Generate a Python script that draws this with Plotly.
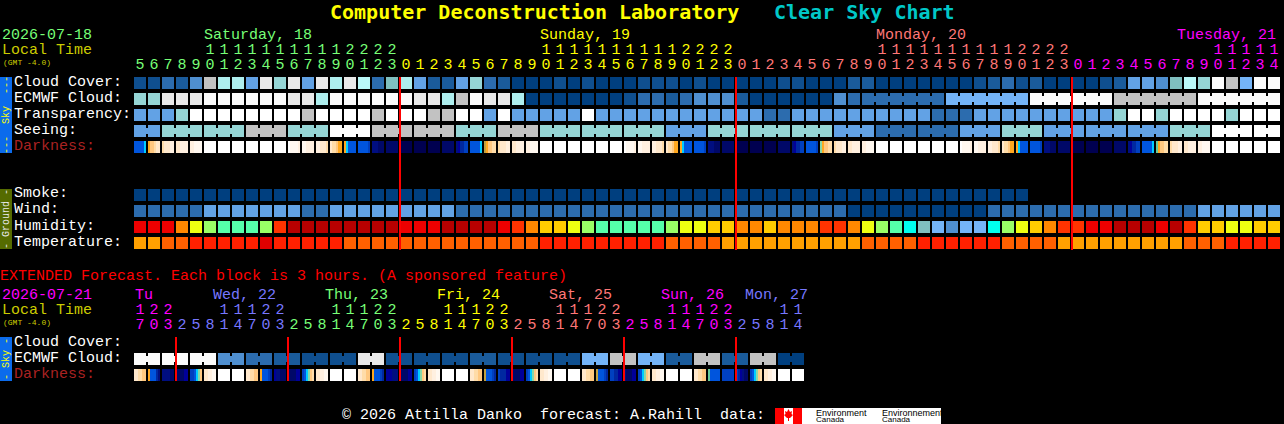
#!/usr/bin/env python3
"""
Clear Sky Chart for the Computer Deconstruction Laboratory
"""

import plotly.graph_objects as go

# Hour labels, one per block
hours = [5, 6, 7, 8, 9, 10, 11, 12, 13, 14, 15, 16, 17, 18, 19, 20, 21, 22, 23,
         0, 1, 2, 3, 4, 5, 6, 7, 8, 9, 10, 11, 12, 13, 14, 15, 16, 17, 18, 19, 20, 21, 22, 23,
         0, 1, 2, 3, 4, 5, 6, 7, 8, 9, 10, 11, 12, 13, 14, 15, 16, 17, 18, 19, 20, 21, 22, 23,
         0, 1, 2, 3, 4, 5, 6, 7, 8, 9, 10, 11, 12, 13, 14]
ext_hours = [17, 20, 23,
             2, 5, 8, 11, 14, 17, 20, 23,
             2, 5, 8, 11, 14, 17, 20, 23,
             2, 5, 8, 11, 14, 17, 20, 23,
             2, 5, 8, 11, 14, 17, 20, 23,
             2, 5, 8, 11, 14, 17, 20, 23,
             2, 5, 8, 11, 14]

# Sky levels, index into SKY_COLORS
cloud = [1, 1, 3, 2, 4, 11, 9, 9, 5, 12, 8, 12, 5, 12, 9, 12, 10, 3, 7,
         9, 5, 2, 2, 5, 8, 3, 2, 0, 0, 0, 1, 0, 1, 0, 0, 0, 1, 1, 1, 0, 1, 0, 0,
         0, 0, 0, 1, 1, 0, 0, 0, 2, 2, 0, 0, 0, 0, 0, 0, 0, 1, 2, 3, 1, 2, 0, 0,
         0, 0, 1, 2, 5, 5, 4, 7, 10, 8, 13, 11, 6, 13, 13]
ecmwf = [8, 8, 12, 12, 12, 13, 13, 13, 13, 13, 13, 12, 12, 9, 13, 13, 13, 13, 13,
         13, 12, 12, 9, 11, 13, 12, 12, 9, 0, 0, 0, 0, 0, 0, 0, 1, 3, 3, 2, 3, 4, 4, 4,
         2, 0, 0, 0, 0, 0, 0, 4, 3, 3, 3, 3, 3, 3, 3, 6, 6, 6, 6, 6, 6, 13, 13, 13,
         13, 13, 13, 11, 11, 11, 11, 11, 11, 13, 13, 13, 13, 13, 13]
transparency = [5, 5, 5, 8, 14, 14, 14, 14, 14, 14, 14, 14, 11, 14, 14, 14, 14, 11, 14,
                14, 14, 11, 11, 14, 14, 5, 14, 5, 5, 5, 5, 5, 14, 5, 5, 5, 5, 5, 5, 5, 5, 5, 5,
                5, 5, 3, 3, 5, 5, 5, 5, 5, 5, 5, 5, 5, 5, 3, 3, 3, 5, 5, 5, 5, 5, 5, 5,
                5, 5, 5, 8, 14, 14, 8, 14, 14, 14, 14, 8, 14, 14, 14]
seeing = [5, 5, 8, 8, 8, 8, 8, 8, 11, 11, 11, 8, 8, 8, 14, 14, 14, 11, 11,
          11, 11, 11, 11, 8, 8, 8, 11, 11, 11, 8, 8, 8, 8, 8, 8, 8, 8, 8, 5, 5, 5, 8, 8,
          8, 8, 8, 8, 8, 8, 8, 5, 5, 5, 3, 3, 3, 3, 3, 3, 5, 5, 5, 8, 8, 8, 5, 5,
          5, 5, 5, 5, 5, 5, 5, 8, 8, 8, 14, 14, 14, 14, 14]
smoke = [0, 0, 0, 0, 0, 0, 0, 0, 0, 0, 0, 0, 0, 0, 0, 0, 0, 0, 0,
         0, 0, 0, 0, 0, 0, 0, 0, 0, 0, 0, 0, 0, 0, 0, 0, 0, 0, 0, 0, 0, 0, 0, 0,
         0, 0, 0, 0, 0, 0, 0, 0, 0, 0, 0, 0, 0, 0, 0, 0, 0, 0, 0, 0, 0]
wind = [3, 3, 3, 3, 3, 5, 5, 5, 5, 5, 5, 5, 3, 3, 5, 5, 5, 5, 5,
        5, 5, 5, 5, 3, 3, 3, 3, 3, 3, 3, 3, 3, 3, 3, 3, 3, 3, 3, 3, 3, 3, 3, 3,
        3, 3, 3, 3, 3, 3, 3, 3, 0, 0, 0, 0, 0, 0, 0, 0, 0, 0, 3, 3, 3, 3, 3, 3,
        3, 3, 3, 3, 3, 3, 3, 3, 3, 5, 5, 5, 5, 5, 5]
humidity = [1, 1, 1, 3, 5, 6, 7, 7, 7, 6, 2, 0, 0, 0, 0, 0, 0, 0, 0,
            1, 1, 1, 0, 0, 0, 0, 1, 2, 3, 4, 4, 5, 6, 7, 7, 7, 7, 7, 6, 5, 5, 4, 4,
            3, 3, 4, 3, 3, 3, 2, 2, 3, 5, 6, 7, 8, 9, 10, 11, 10, 10, 8, 6, 5, 4, 3, 2,
            2, 1, 1, 0, 0, 0, 1, 0, 2, 4, 4, 5, 5, 4, 4]
temperature = [0, 0, 1, 1, 2, 2, 2, 2, 2, 3, 2, 2, 2, 2, 2, 1, 1, 1, 1,
               1, 1, 1, 1, 1, 1, 1, 1, 1, 1, 2, 2, 2, 2, 2, 2, 2, 2, 2, 1, 1, 1, 1, 0,
               0, 0, 0, 0, 0, 0, 0, 0, 0, 1, 1, 1, 1, 2, 2, 2, 2, 2, 2, 1, 1, 1, 1, 0,
               0, 0, 0, 0, 0, 0, 0, 0, 1, 1, 1, 2, 2, 2, 2]
ext_ecmwf = [13, 13, 13, 4, 3, 2, 1, 1, 12, 1, 1, 1, 2, 1, 1, 1, 6, 11, 6, 2, 11, 2, 11, 0]

# Darkness: six readings across each block, letters index into DARK_COLORS
darkness = ["iiiiih", "gffedd", "edddcc", "ddcccc", "ccbbbb",
            "aaaaaa", "aaaaaa", "aaaaaa", "aaaaaa", "aaaaaa", "aaaaaa",
            "abbbbc", "bbcccc", "ccddde", "deefgg", "ghiiii", "iiiiij", "lllmmm", "mmmmmm",
            "nnnnnn", "nnnnnn", "nnnnnn", "mmmmmm", "lokkjj", "iiiiih", "qgffee", "edddcc", "ddcccc", "ccbbbb",
            "aaaaaa", "aaaaaa", "aaaaaa", "aaaaaa", "aaaaaa", "aaaaaa",
            "abbbbc", "bbcccc", "ccddde", "deefgg", "ghiiii", "iiiiij", "lllmmm", "mmmmmm",
            "nnnnnn", "nnnnnn", "nnnnnn", "mmmmmm", "lokkjj", "iiiiij", "pgffee", "edddcc", "ddcccc", "ccbbbb",
            "aaaaaa", "aaaaaa", "aaaaaa", "aaaaaa", "aaaaaa", "aaaaaa",
            "abbbbc", "bbcccc", "ccddde", "deefgg", "ghiiii", "iiiiij", "lllmmm", "mmmmmm",
            "nnnnnn", "nnnnnn", "nnnnnn", "mmmmmm", "lokkjj", "iiiiih", "rgffee", "edddcc", "ddcccc", "ccbbbb",
            "aaaaaa", "aaaaaa", "aaaaaa", "aaaaaa", "aaaaaa"]
ext_darkness = ["ddeeff", "giiikl", "llllmm", "mmmmoo", "jjihpf", "ddccbb", "aaaaaa", "aaaaaa",
                "ddeeff", "giiijk", "ollmmm", "mmmmoo", "jihpfe", "ddccbb", "aaaaaa", "aaaaaa",
                "ddeeff", "giiijk", "ooolll", "mmmmoo", "jihpfe", "ddccbb", "aaaaaa", "aaaaaa",
                "ddeeff", "qiiijk", "jkkkoo", "mmmmoo", "jihpfe", "ddccbb", "aaaaaa", "aaaaaa",
                "ddeeff", "qiiijk", "jjkkoo", "lmmmoo", "jihpfe", "ddccbb", "aaaaaa", "aaaaaa",
                "ddeeff", "riiiii", "jjjjjj", "jkolmm", "jihpfe", "ddccbb", "aaaaaa", "aaaaaa"]

# Blocks that are joined together by a neck
seeing_groups = [2] + [3] * 26 + [2]
ecmwf_groups = [1] * 52 + [6] * 5
ext_groups = [2] * 24

# Where each day starts
midnights = [19, 43, 67]
ext_midnights = [3, 11, 19, 27, 35, 43]

SKY_COLORS = ['#003f7f', '#0f4f8f', '#1a5b9b', '#2c6cae', '#4f8fd0', '#62a2e5', '#74b4f7', '#7fbfbf',
              '#95d5d5', '#aeeeee', '#baf9f9', '#c2c2c2', '#e9e9e9', '#fbfbfb', '#ffffff']
HUMIDITY_COLORS = ['#b80000', '#ee0000', '#ff3300', '#ff8800', '#ffcc00', '#eeff11', '#99ff66', '#55ffaa',
                   '#00ffee', '#80bfbf', '#74b4f7', '#4f8fd0']
TEMP_COLORS = ['#ffa000', '#ff6000', '#ff2000', '#e00000']
DARK_COLORS = {'a': '#ffffff', 'b': '#fff8f0', 'c': '#fff0e0', 'd': '#ffe8cc', 'e': '#ffdca8', 'f': '#ffc880',
               'g': '#ffa820', 'h': '#00ccff', 'i': '#0055dd', 'j': '#0040c0', 'k': '#0028a0', 'l': '#000e80',
               'm': '#000868', 'n': '#000050', 'o': '#00009a', 'p': '#88d8a8', 'q': '#c0a040', 'r': '#66cc99'}

GREEN = '#77ff77'
YELLOW = '#ffff00'
SALMON = '#ff7777'
MAGENTA = '#ff00ff'
BLUE = '#7777ff'
OLIVE = '#cccc00'
MONO = 'Liberation Mono'

# Axes: one x unit is a block (14 px), one y unit a row (16 px)
PX_W, PX_H = 1284, 424
X0, Y0 = 140, 83
def row_of(py):
    return (py - Y0) / 16

fig = go.Figure()


def add_row(values, row, colors, groups=None):
    idx = list(range(len(values)))
    cols = [colors[v] for v in values]
    fig.add_trace(go.Bar(x=idx, y=[12 / 16] * len(idx), base=row - 6 / 16, width=12 / 14,
                         marker=dict(color=cols, line=dict(width=0)), hoverinfo='skip'))
    if groups:
        nx, nc = [], []
        i = 0
        for g in groups:
            for k in range(i, i + g - 1):
                nx.append(k + 0.5)
                nc.append(cols[k])
            i += g
        fig.add_trace(go.Bar(x=nx, y=[6 / 16] * len(nx), base=row - 3 / 16, width=2 / 14,
                             marker=dict(color=nc, line=dict(width=0)), hoverinfo='skip'))


def add_dark_row(strips, row):
    xs, cols = [], []
    for i, s in enumerate(strips):
        for k, ch in enumerate(s):
            xs.append(i + (k - 2.5) * 2 / 14)
            cols.append(DARK_COLORS[ch])
    fig.add_trace(go.Bar(x=xs, y=[12 / 16] * len(xs), base=row - 6 / 16, width=2 / 14,
                         marker=dict(color=cols, line=dict(width=0)), hoverinfo='skip'))


def add_day_lines(days, top, bottom):
    # red line sits on the left edge of the first block of the day
    xs = [d - 6 / 14 for d in days]
    fig.add_trace(go.Bar(x=xs, y=[row_of(bottom) - row_of(top)] * len(xs), base=row_of(top), width=2 / 14,
                         marker=dict(color='#ff0000', line=dict(width=0)), hoverinfo='skip'))


def add_hours(labels, colors, y_tens, y_units):
    idx = list(range(len(labels)))
    tens = [str(h // 10) if h >= 10 else '' for h in labels]
    units = [str(h % 10) for h in labels]
    for txt, py in ((tens, y_tens), (units, y_units)):
        fig.add_trace(go.Scatter(x=idx, y=[row_of(py)] * len(idx), mode='text', text=txt,
                                 textposition='middle center',
                                 textfont=dict(family=MONO, size=15, color=colors), hoverinfo='skip'))


def label(text, px, py, color='#ffffff', size=15, family=MONO, angle=0, xanchor='left'):
    fig.add_annotation(x=px / PX_W, y=1 - py / PX_H, xref='paper', yref='paper', text=text, showarrow=False,
                       xanchor=xanchor, yanchor='middle', textangle=angle, borderpad=0,
                       font=dict(family=family, size=size, color=color))


def panel(px0, py0, px1, py1, color, layer='below'):
    fig.add_shape(type='rect', xref='paper', yref='paper', x0=px0 / PX_W, x1=px1 / PX_W,
                  y0=1 - py0 / PX_H, y1=1 - py1 / PX_H, fillcolor=color, line=dict(width=0), layer=layer)


# Hourly sky rows
add_row(cloud, 0, SKY_COLORS)
add_row(ecmwf, 1, SKY_COLORS, ecmwf_groups)
add_row(transparency, 2, SKY_COLORS)
add_row(seeing, 3, SKY_COLORS, seeing_groups)
add_dark_row(darkness, 4)

# Hourly ground rows
add_row(smoke, 7, SKY_COLORS)
add_row(wind, 8, SKY_COLORS)
add_row(humidity, 9, HUMIDITY_COLORS)
add_row(temperature, 10, TEMP_COLORS)
add_day_lines(midnights, 77, 250)

# Extended rows
add_row([v for v in ext_ecmwf for _ in range(2)], row_of(359), SKY_COLORS, ext_groups)
add_dark_row(ext_darkness, row_of(375))
add_day_lines(ext_midnights, 337, 381)

# Hour digits, coloured by day
day_colors = [GREEN] * 19 + [YELLOW] * 24 + [SALMON] * 24 + [MAGENTA] * 15
ext_colors = [MAGENTA] * 3 + [BLUE] * 8 + [GREEN] * 8 + [YELLOW] * 8 + [SALMON] * 8 + [MAGENTA] * 8 + [BLUE] * 5
add_hours(hours, day_colors, 50.5, 65.5)
add_hours(ext_hours, ext_colors, 310.5, 325.5)

# Title
label('Computer Deconstruction Laboratory', 329, 12, YELLOW, 20, 'DejaVu Sans Mono, monospace')
label('Clear Sky Chart', 773, 12, '#00c8c8', 20, 'DejaVu Sans Mono, monospace')
for a in fig.layout.annotations:
    a.font.weight = 'bold'

# Header text
label('2026-07-18', 1, 36, GREEN)
label('Local Time', 1, 50, OLIVE)
label('(GMT -4.0)', 2, 62, OLIVE, 8)
label('Saturday, 18', 203, 36, GREEN)
label('Sunday, 19', 539, 36, YELLOW)
label('Monday, 20', 875, 36, SALMON)
label('Tuesday, 21', 1176, 36, MAGENTA)

# Row labels
label('Cloud Cover:', 13, 82)
label('ECMWF Cloud:', 13, 98)
label('Transparency:', 13, 114)
label('Seeing:', 13, 130)
label('Darkness:', 13, 146, '#aa2222')
label('Smoke:', 13, 194)
label('Wind:', 13, 210)
label('Humidity:', 13, 226)
label('Temperature:', 13, 242)

# Extended header and labels
label('EXTENDED Forecast. Each block is 3 hours. (A sponsored feature)', -1, 276, '#ff0000')
label('2026-07-21', 1, 295, MAGENTA)
label('Local Time', 1, 310, OLIVE)
label('(GMT -4.0)', 2, 322, OLIVE, 8)
label('Tu', 134, 295, MAGENTA)
label('Wed, 22', 212, 295, BLUE)
label('Thu, 23', 324, 295, GREEN)
label('Fri, 24', 436, 295, YELLOW)
label('Sat, 25', 548, 295, SALMON)
label('Sun, 26', 660, 295, MAGENTA)
label('Mon, 27', 744, 295, BLUE)
label('Cloud Cover:', 13, 342)
label('ECMWF Cloud:', 13, 358)
label('Darkness:', 13, 374, '#aa2222')

# Side tabs
panel(0, 77, 12, 153, '#0b6bec')
panel(0, 189, 12, 249, '#556b00')
panel(0, 337, 12, 381, '#0b6bec')
label('---\u00a0\u00a0Sky\u00a0\u00a0---', 6, 115, YELLOW, 10, MONO, -90, 'center')
label('-\u00a0Ground\u00a0-', 6, 219, '#e8e8e8', 10, MONO, -90, 'center')
label('-\u00a0Sky\u00a0-', 6, 359, YELLOW, 10, MONO, -90, 'center')

# Footer with the Environment Canada logo
label('\u00a9 2026 Attilla Danko\u00a0\u00a0forecast: A.Rahill\u00a0\u00a0data:', 341, 415)
panel(775, 408, 941, 424, '#ffffff')
panel(775, 408, 784, 424, '#ff0000')
panel(793, 408, 802, 424, '#ff0000')
fig.add_shape(type='path', xref='x', yref='y', line=dict(width=0), fillcolor='#ff0000',
              path=' '.join(f"{'M' if i == 0 else 'L'} {(px - X0) / 14} {row_of(py)}" for i, (px, py) in enumerate(
                  [(788.5, 409), (790, 412), (792, 411), (791.5, 414), (793, 415), (790, 418), (789, 418), (789, 421),
                   (788, 421), (788, 418), (787, 418), (784, 415), (785.5, 414), (785, 411), (787, 412)])) + ' Z')
label('Environment', 815, 412.5, '#000000', 9, 'Liberation Sans')
label('Canada', 815, 419.5, '#000000', 8, 'Liberation Sans')
label('Environnement', 881, 412.5, '#000000', 9, 'Liberation Sans')
label('Canada', 881, 419.5, '#000000', 8, 'Liberation Sans')

fig.update_layout(
    width=PX_W, height=PX_H,
    margin=dict(l=0, r=0, t=0, b=0),
    paper_bgcolor='#000000', plot_bgcolor='#000000',
    barmode='overlay', showlegend=False, hovermode=False,
    xaxis=dict(range=[-X0 / 14, (PX_W - X0) / 14], visible=False, fixedrange=True),
    yaxis=dict(range=[row_of(PX_H), row_of(0)], visible=False, fixedrange=True),
)

fig.write_html("out.html", config={'displayModeBar': False},
               post_script="document.body.style.margin='0';document.body.style.overflow='hidden';")
